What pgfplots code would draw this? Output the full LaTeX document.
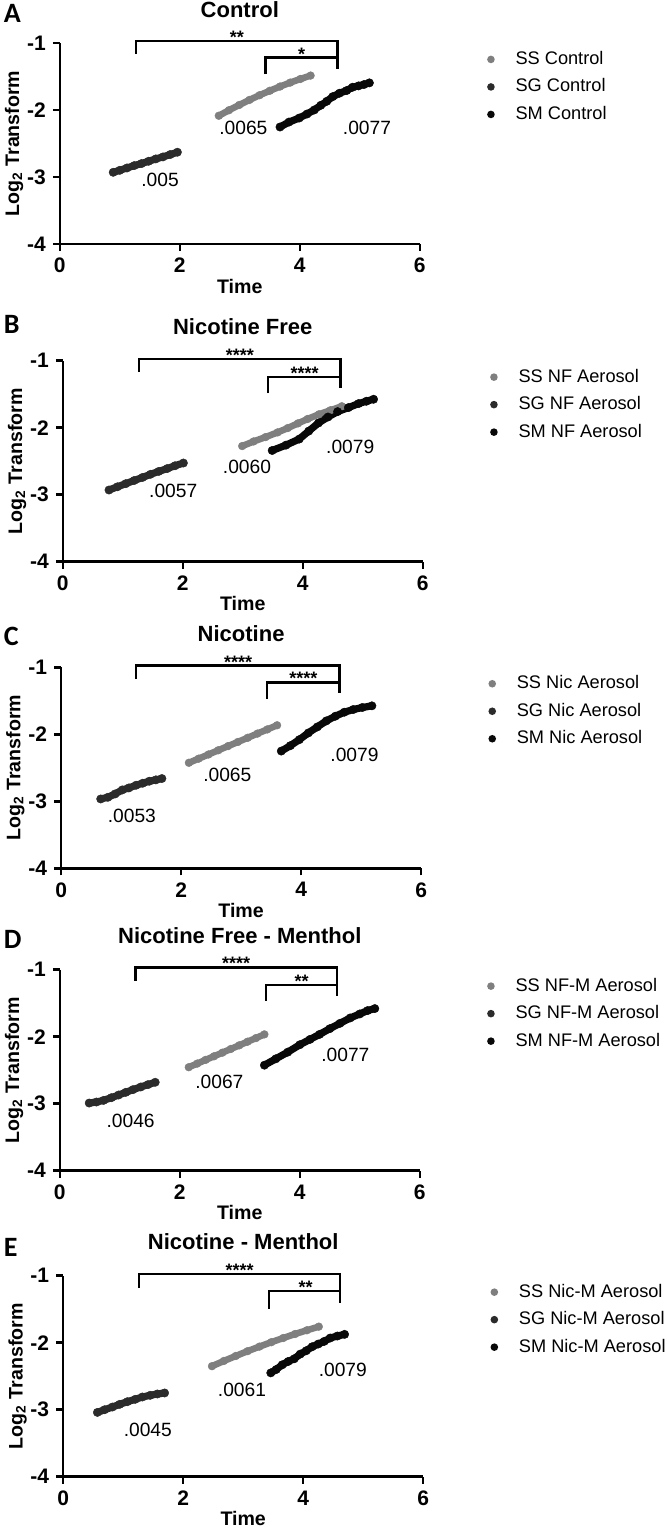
\documentclass[border=0pt]{standalone}
\usepackage{fontspec}
\setmainfont{Liberation Sans}
\newfontfamily\letterfont{Carlito}
\usepackage{pgfplots}
\pgfplotsset{compat=1.18}
\definecolor{ssgray}{HTML}{7F7F7F}
\definecolor{sgdark}{HTML}{2B2B2B}
\definecolor{smblack}{HTML}{080808}
\pgfplotsset{panel/.style={
  at={#1}, anchor=south west, scale only axis, width=180pt, height=100.5pt,
  xmin=0, xmax=6, ymin=-4, ymax=-1,
  axis lines*=left, axis line style={line width=1.25pt, -},
  xtick={0,2,4,6}, ytick={-4,-3,-2,-1},
  xticklabels={0,2,4,6}, yticklabels={-4,-3,-2,-1},
  tick align=outside, major tick length=3.5pt, tick style={line width=1.25pt, black},
  ticklabel style={font=\fontsize{10.5}{12}\selectfont\bfseries},
  clip=false,
  every axis title shift=0pt,
  title style={at={(axis description cs:0.5,1.129)}, anchor=base, font=\fontsize{11}{13}\selectfont\bfseries},
  xlabel style={at={(axis description cs:0.5,-0.245)}, anchor=base, font=\fontsize{9.8}{11}\selectfont\bfseries},
  ylabel style={at={(axis description cs:-0.113,0.5)}, anchor=base, font=\fontsize{9.8}{11}\selectfont\bfseries},
  xlabel={Time}, ylabel={Log\textsubscript{2} Transform},
  legend style={at={(axis description cs:1.176,0.965)}, anchor=north west, draw=none, fill=none,
    inner sep=0pt, row sep=4.75pt, font=\fontsize{9.1}{11}\selectfont,
    nodes={inner sep=0pt, text height=7pt, text depth=2pt}},
  legend cell align=left,
  legend image code/.code={\fill[##1,draw=none] (0pt,0pt) circle (1.9pt); \path (-1.9pt,0pt) (10.5pt,0pt);},
  ss/.style={color=ssgray, line width=3.3pt, line cap=round, line join=round, mark=*, mark size=1.95pt, mark options={line width=0.2pt}},
  sg/.style={color=sgdark, line width=3.6pt, line cap=round, line join=round, mark=*, mark size=2.1pt, mark options={line width=0.2pt}},
  sm/.style={color=smblack, line width=3.6pt, line cap=round, line join=round, mark=*, mark size=2.1pt, mark options={line width=0.2pt}},
}}
\tikzset{brk/.style={line width=1.15pt, black},
  stars/.style={anchor=base, font=\fontsize{9}{10}\selectfont\bfseries, inner sep=0pt, yshift=-1.3pt},
  ann/.style={font=\fontsize{9.6}{11}\selectfont, inner sep=0pt},
  letter/.style={anchor=base west, font=\fontsize{14}{14}\selectfont\letterfont\bfseries, inner sep=0pt}}
\begin{document}
\begin{tikzpicture}
\useasboundingbox (0,0) rectangle (333pt,-765pt);
% ---------- A ----------
\begin{axis}[panel={(29.9pt,-122pt)}, title={Control}]
\addplot[ss] coordinates {(2.65,-2.086)(2.82,-2.003)(2.99,-1.925)(3.16,-1.850)(3.33,-1.779)(3.5,-1.713)(3.67,-1.650)(3.84,-1.591)(4.01,-1.537)(4.18,-1.486)};
\addplot[sg] coordinates {(0.89,-2.93)(1.0,-2.90)(1.12,-2.865)(1.24,-2.83)(1.36,-2.80)(1.48,-2.765)(1.6,-2.73)(1.72,-2.70)(1.84,-2.665)(1.96,-2.63)};
\addplot[sm] coordinates {(3.67,-2.254)(3.82,-2.18)(3.99,-2.12)(4.12,-2.06)(4.24,-2.0)(4.35,-1.93)(4.45,-1.87)(4.55,-1.80)(4.66,-1.75)(4.78,-1.71)(4.88,-1.66)(4.98,-1.64)(5.07,-1.62)(5.16,-1.595)};
\legend{SS Control, SG Control, SM Control}
\draw[brk] (axis cs:1.27,-1.16) -- (axis cs:1.27,-0.97) -- (axis cs:4.63,-0.97) -- (axis cs:4.63,-1.39);
\draw[brk] (axis cs:3.43,-1.466) -- (axis cs:3.43,-1.218) -- (axis cs:4.63,-1.218);
\node[stars] at (axis cs:2.95,-0.97) {**};
\node[stars] at (axis cs:4.03,-1.218) {*};
\node[ann] at (axis cs:1.67,-3.04) {.005};
\node[ann] at (axis cs:3.06,-2.27) {.0065};
\node[ann] at (axis cs:5.12,-2.27) {.0077};
\end{axis}
\node[letter] at (1.7pt,-11.35pt) {A};
% ---------- B ----------
\begin{axis}[panel={(31.4pt,-280.85pt)}, title={Nicotine Free}]
\addplot[ss] coordinates {(2.99,-2.274)(3.18,-2.205)(3.38,-2.14)(3.58,-2.07)(3.75,-2.005)(3.92,-1.935)(4.08,-1.87)(4.27,-1.80)(4.46,-1.74)(4.65,-1.68)};
\addplot[sg] coordinates {(0.77,-2.93)(0.91,-2.882)(1.05,-2.835)(1.19,-2.788)(1.33,-2.742)(1.46,-2.696)(1.6,-2.652)(1.74,-2.610)(1.87,-2.568)(2.01,-2.527)};
\addplot[sm] coordinates {(3.49,-2.34)(3.72,-2.26)(3.94,-2.17)(4.10,-2.05)(4.26,-1.93)(4.42,-1.84)(4.58,-1.76)(4.76,-1.70)(4.93,-1.64)(5.06,-1.605)(5.18,-1.575)};
\legend{SS NF Aerosol, SG NF Aerosol, SM NF Aerosol}
\draw[brk] (axis cs:1.27,-1.17) -- (axis cs:1.27,-0.975) -- (axis cs:4.63,-0.975) -- (axis cs:4.63,-1.40);
\draw[brk] (axis cs:3.42,-1.486) -- (axis cs:3.42,-1.238) -- (axis cs:4.63,-1.238);
\node[stars] at (axis cs:2.95,-0.975) {****};
\node[stars] at (axis cs:4.03,-1.238) {****};
\node[ann] at (axis cs:1.84,-2.94) {.0057};
\node[ann] at (axis cs:3.07,-2.59) {.0060};
\node[ann] at (axis cs:4.79,-2.29) {.0079};
\end{axis}
\node[letter] at (1.7pt,-166.5pt) {B};
% ---------- C ----------
\begin{axis}[panel={(30.55pt,-434.15pt)}, title={Nicotine}]
\addplot[ss] coordinates {(2.13,-2.425)(2.293,-2.363)(2.457,-2.301)(2.62,-2.238)(2.783,-2.176)(2.947,-2.114)(3.11,-2.052)(3.273,-1.989)(3.437,-1.927)(3.60,-1.865)};
\addplot[sg] coordinates {(0.66,-2.965)(0.78,-2.94)(0.9,-2.89)(1.02,-2.83)(1.13,-2.80)(1.25,-2.76)(1.36,-2.73)(1.47,-2.70)(1.58,-2.68)(1.68,-2.66)};
\addplot[sm] coordinates {(3.67,-2.25)(3.82,-2.17)(3.97,-2.08)(4.12,-1.98)(4.27,-1.89)(4.42,-1.80)(4.57,-1.73)(4.72,-1.67)(4.87,-1.63)(5.02,-1.60)(5.18,-1.575)};
\legend{SS Nic Aerosol, SG Nic Aerosol, SM Nic Aerosol}
\draw[brk] (axis cs:1.25,-1.175) -- (axis cs:1.25,-0.975) -- (axis cs:4.64,-0.975) -- (axis cs:4.64,-1.39);
\draw[brk] (axis cs:3.43,-1.475) -- (axis cs:3.43,-1.225) -- (axis cs:4.64,-1.225);
\node[stars] at (axis cs:2.95,-0.975) {****};
\node[stars] at (axis cs:4.04,-1.225) {****};
\node[ann] at (axis cs:1.18,-3.225) {.0053};
\node[ann] at (axis cs:2.77,-2.6) {.0065};
\node[ann] at (axis cs:4.89,-2.3) {.0079};
\end{axis}
\node[letter] at (1.7pt,-322.5pt) {C};
% ---------- D ----------
\begin{axis}[panel={(29.9pt,-585.35pt)}, title={Nicotine Free - Menthol}]
\addplot[ss] coordinates {(2.15,-2.455)(2.29,-2.401)(2.43,-2.346)(2.57,-2.292)(2.71,-2.238)(2.85,-2.183)(2.99,-2.129)(3.13,-2.074)(3.27,-2.020)(3.41,-1.965)};
\addplot[sg] coordinates {(0.49,-2.99)(0.61,-2.975)(0.73,-2.95)(0.86,-2.91)(0.98,-2.87)(1.1,-2.83)(1.22,-2.79)(1.35,-2.75)(1.47,-2.715)(1.59,-2.68)};
\addplot[sm] coordinates {(3.41,-2.425)(3.6,-2.33)(3.8,-2.23)(4.0,-2.12)(4.17,-2.04)(4.33,-1.965)(4.5,-1.88)(4.67,-1.80)(4.84,-1.72)(5.0,-1.66)(5.13,-1.61)(5.25,-1.58)};
\legend{SS NF-M Aerosol, SG NF-M Aerosol, SM NF-M Aerosol}
\draw[brk] (axis cs:1.26,-1.165) -- (axis cs:1.26,-0.965) -- (axis cs:4.62,-0.965) -- (axis cs:4.62,-1.39);
\draw[brk] (axis cs:3.44,-1.465) -- (axis cs:3.44,-1.225) -- (axis cs:4.62,-1.225);
\node[stars] at (axis cs:2.94,-0.965) {****};
\node[stars] at (axis cs:4.03,-1.225) {**};
\node[ann] at (axis cs:1.18,-3.25) {.0046};
\node[ann] at (axis cs:2.66,-2.68) {.0067};
\node[ann] at (axis cs:4.76,-2.265) {.0077};
\end{axis}
\node[letter] at (1.7pt,-474pt) {D};
% ---------- E ----------
\begin{axis}[panel={(31.6pt,-738.35pt)}, title={Nicotine - Menthol}]
\addplot[ss] coordinates {(2.48,-2.35)(2.678,-2.272)(2.876,-2.198)(3.073,-2.126)(3.271,-2.058)(3.469,-1.992)(3.667,-1.930)(3.864,-1.870)(4.062,-1.814)(4.26,-1.76)};
\addplot[sg] coordinates {(0.57,-3.04)(0.69,-3.0)(0.82,-2.96)(0.94,-2.92)(1.07,-2.88)(1.2,-2.845)(1.32,-2.81)(1.45,-2.785)(1.57,-2.765)(1.69,-2.75)};
\addplot[sm] coordinates {(3.46,-2.45)(3.55,-2.40)(3.65,-2.33)(3.75,-2.28)(3.85,-2.24)(3.95,-2.17)(4.05,-2.12)(4.15,-2.06)(4.25,-2.02)(4.35,-1.98)(4.45,-1.93)(4.57,-1.90)(4.69,-1.875)};
\legend{SS Nic-M Aerosol, SG Nic-M Aerosol, SM Nic-M Aerosol}
\draw[brk] (axis cs:1.26,-1.185) -- (axis cs:1.26,-0.975) -- (axis cs:4.61,-0.975) -- (axis cs:4.61,-1.41);
\draw[brk] (axis cs:3.43,-1.49) -- (axis cs:3.43,-1.225) -- (axis cs:4.61,-1.225);
\node[stars] at (axis cs:2.94,-0.975) {****};
\node[stars] at (axis cs:4.04,-1.225) {**};
\node[ann] at (axis cs:1.41,-3.3) {.0045};
\node[ann] at (axis cs:2.98,-2.7) {.0061};
\node[ann] at (axis cs:4.66,-2.4) {.0079};
\end{axis}
\node[letter] at (1.7pt,-628.35pt) {E};
\end{tikzpicture}
\end{document}
